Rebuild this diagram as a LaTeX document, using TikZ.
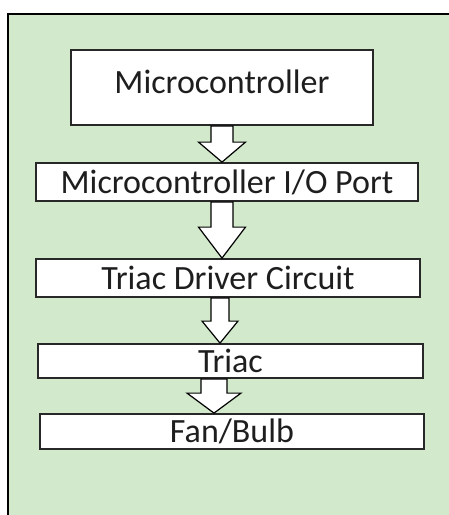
\documentclass[tikz,border=0pt]{standalone}
\usepackage{fontspec}
\setmainfont{Carlito}
\usetikzlibrary{calc}

\definecolor{panelgreen}{RGB}{210,233,203}
\definecolor{boxline}{RGB}{40,40,40}
\definecolor{labelgray}{RGB}{30,30,30}

\tikzset{
  stagebox/.style={draw=boxline, line width=1.8pt, fill=white, inner sep=0pt,
    font=\fontsize{34}{37}\selectfont, text=labelgray},
  barrow/.style={draw=black, line width=1.2pt, fill=white, line join=miter},
}

% hollow block arrow from the bottom of #1 to the top of #2
% #3 centre x, #4 shaft half width, #5 head half width, #6 head length (pt)
\newcommand\blockarrow[6]{%
  \draw[barrow] let \p1=(#1.south), \p2=(#2.north) in
    (#3pt-#4pt,\y1) -- (#3pt-#4pt,\y2+#6pt) -- (#3pt-#5pt,\y2+#6pt)
    -- (#3pt,\y2) -- (#3pt+#5pt,\y2+#6pt) -- (#3pt+#4pt,\y2+#6pt)
    -- (#3pt+#4pt,\y1) -- cycle;}

\begin{document}
\begin{tikzpicture}[x=1pt,y=-1pt]
  \useasboundingbox (0,0) rectangle (448,515);
  \fill[white] (0,0) rectangle (448,515);

  % green background panel
  \fill[panelgreen] (8,14) rectangle (452,520);
  \draw[black, line width=2pt] (8,520) -- (8,14) -- (452,14);

  % stages
  \node[stagebox, minimum width=302pt, minimum height=75pt, text depth=12pt] (mc) at (222,87.5) {Microcontroller};
  \node[stagebox, minimum width=382pt, minimum height=38pt] (io) at (227,182) {Microcontroller I/O Port};
  \node[stagebox, minimum width=384pt, minimum height=38pt] (drv) at (228,278) {Triac Driver Circuit};
  \node[stagebox, minimum width=385pt, minimum height=34pt] (tri) at (230.5,361) {Triac};
  \node[stagebox, minimum width=384pt, minimum height=35pt] (load) at (232,431.5) {Fan/Bulb};

  % flow arrows
  \blockarrow{mc}{io}{222}{11}{23.5}{20}
  \blockarrow{io}{drv}{222}{11}{23.5}{31}
  \blockarrow{drv}{tri}{220}{9}{18}{22}
  \blockarrow{tri}{load}{214}{13}{27}{20}
\end{tikzpicture}
\end{document}
